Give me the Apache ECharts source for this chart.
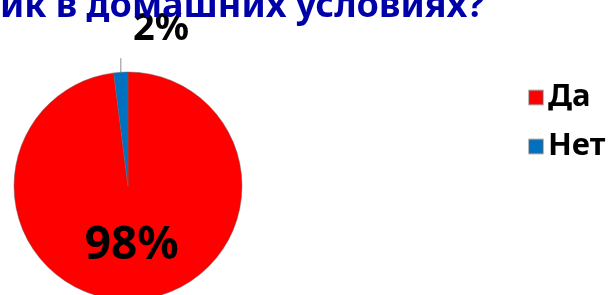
<!DOCTYPE html>
<html>
<head>
<meta charset="utf-8">
<script src="https://cdn.jsdelivr.net/npm/echarts@6/dist/echarts.min.js"></script>
<style>
  html, body { margin: 0; padding: 0; background: #fff; }
  #main { width: 616px; height: 295px; }
</style>
</head>
<body>
<div id="main"></div>
<script>
// данные диаграммы
var titleText = 'ик в домашних условиях?';
var categories = ['Да', 'Нет'];
var values = [98, 2];
var colors = ['#ff0000', '#0070c0'];

var chart = echarts.init(document.getElementById('main'), null, { renderer: 'canvas' });

var pieData = [];
for (var i = 0; i < categories.length; i++) {
  pieData.push({ name: categories[i], value: values[i], itemStyle: { color: colors[i] } });
}
// подпись "Нет" снаружи, с короткой выноской вверх
pieData[1].label = { position: 'outside', fontSize: 38 };
pieData[1].labelLine = { show: true, length: 14, length2: 0, lineStyle: { color: '#8c8c8c', width: 1 } };

chart.setOption({
  animation: false,
  title: {
    text: titleText,
    left: -5,
    top: -16,
    textStyle: { fontFamily: 'Noto Sans', fontWeight: 'bold', fontSize: 36, color: '#0000a8' }
  },
  legend: {
    orient: 'vertical',
    left: 523,
    top: 77,
    itemWidth: 14,
    itemHeight: 14,
    itemGap: 18,
    icon: 'rect',
    data: categories,
    textStyle: { fontFamily: 'Noto Sans', fontWeight: 'bold', fontSize: 31, color: '#000' }
  },
  series: [{
    type: 'pie',
    center: [128, 186],
    radius: 114,
    startAngle: 90,
    clockwise: true,
    data: pieData,
    itemStyle: { borderColor: 'rgba(100,100,100,0.45)', borderWidth: 1 },
    label: {
      show: true,
      position: 'inside',
      formatter: '{d}%',
      fontFamily: 'Noto Sans',
      fontWeight: 'bold',
      fontSize: 46,
      color: '#000'
    },
    labelLine: { show: false },
    labelLayout: function (params) {
      if (params.dataIndex === 1) {
        var res = { x: 161, y: 29, align: 'center', verticalAlign: 'middle' };
        var p = params.labelLinePoints;
        if (p && p.length) {
          // выноска строго вертикально вверх от края сектора
          res.labelLinePoints = [[p[0][0], p[0][1]], [p[0][0], p[0][1] - 14], [p[0][0], p[0][1] - 14]];
        }
        return res;
      }
      return {};
    }
  }]
});
</script>
</body>
</html>
